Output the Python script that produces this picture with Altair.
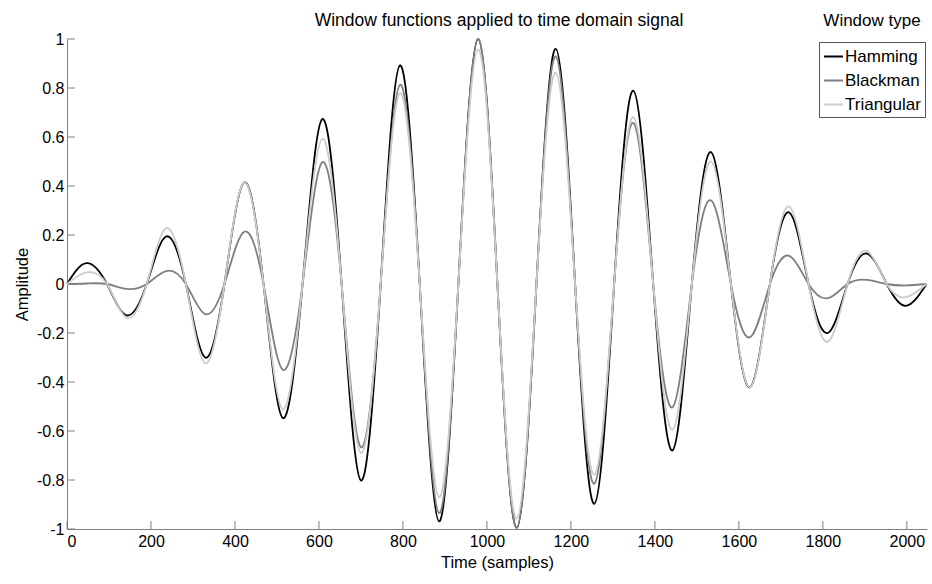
import altair as alt
import pandas as pd

# Sample positions (extrema and zero crossings)
time_samples = [0, 46, 95, 142, 190, 236, 283, 329, 375, 422, 468, 514, 561, 608, 654,
                700, 747, 793, 840, 886, 932, 979, 1025, 1071, 1118, 1164, 1210, 1256,
                1303, 1349, 1396, 1442, 1488, 1534, 1581, 1627, 1674, 1720, 1766, 1812,
                1859, 1905, 1952, 1998, 2047]

hamming = [0, 0.085, 0, -0.128, 0, 0.194, 0, -0.300, 0, 0.414, 0, -0.547, 0, 0.673, 0,
           -0.802, 0, 0.892, 0, -0.969, 0, 1.0, 0, -0.995, 0, 0.960, 0, -0.897,
           0, 0.789, 0, -0.679, 0, 0.538, 0, -0.421, 0, 0.292, 0, -0.200,
           0, 0.124, 0, -0.089, 0]

blackman = [0, 0.002, 0, -0.020, 0, 0.053, 0, -0.123, 0, 0.213, 0, -0.350, 0, 0.497, 0,
            -0.666, 0, 0.813, 0, -0.935, 0, 1.0, 0, -0.995, 0, 0.929, 0, -0.815,
            0, 0.657, 0, -0.503, 0, 0.341, 0, -0.217, 0, 0.115, 0, -0.058,
            0, 0.017, 0, -0.006, 0]

triangular = [0, 0.047, 0, -0.138, 0, 0.228, 0, -0.323, 0, 0.414, 0, -0.511, 0, 0.593, 0,
              -0.690, 0, 0.779, 0, -0.870, 0, 0.957, 0, -0.958, 0, 0.863, 0, -0.778,
              0, 0.681, 0, -0.595, 0, 0.500, 0, -0.421, 0, 0.316, 0, -0.235,
              0, 0.135, 0, -0.054, 0]

series_names = ["Hamming", "Blackman", "Triangular"]
series_colors = ["#000000", "#7f7f7f", "#cccccc"]

x_ticks = [0, 200, 400, 600, 800, 1000, 1200, 1400, 1600, 1800, 2000]
y_ticks = [-1, -0.8, -0.6, -0.4, -0.2, 0, 0.2, 0.4, 0.6, 0.8, 1]

chart_title = "Window functions applied to time domain signal"
legend_heading = "Window type"

rows = []
for name, vals in zip(series_names, [hamming, blackman, triangular]):
    for order, (t, v) in enumerate(zip(time_samples, vals)):
        rows.append({"t": t, "amp": v, "window": name, "ord": order})
df = pd.DataFrame(rows)

FONT = "Liberation Sans"
W, H = 860, 490

xscale = alt.Scale(domain=[0, 2048], nice=False, zero=False)
yscale = alt.Scale(domain=[-1, 1], nice=False)

lines = alt.Chart(df).mark_line(interpolate="natural", strokeWidth=1.8).encode(
    x=alt.X("t:Q", scale=xscale,
            axis=alt.Axis(title="Time (samples)", values=x_ticks, tickSize=0,
                          labelExpr="'' + datum.value", grid=False,
                          domainColor="#808080", labelPadding=4,
                          labelFontSize=16, titleFontSize=16.5,
                          titleFontWeight="normal", titlePadding=5,
                          labelColor="#000000", titleColor="#000000")),
    y=alt.Y("amp:Q", scale=yscale,
            axis=alt.Axis(title="Amplitude", values=y_ticks, tickSize=0,
                          labelExpr="'' + datum.value", grid=False,
                          domainColor="#808080", labelPadding=3,
                          labelFontSize=16, titleFontSize=16.5,
                          titleFontWeight="normal", titlePadding=6,
                          labelColor="#000000", titleColor="#000000")),
    color=alt.Color("window:N",
                    scale=alt.Scale(domain=series_names, range=series_colors),
                    legend=alt.Legend(title=None, orient="none", legendX=752, legendY=3,
                                      strokeColor="#555555", fillColor="#ffffff",
                                      padding=4, symbolType="stroke",
                                      symbolStrokeWidth=2, symbolSize=360,
                                      labelFontSize=17, labelFont=FONT,
                                      labelColor="#000000", rowPadding=5,
                                      labelOffset=1, cornerRadius=0)),
    order=alt.Order("ord:Q"),
)

xt = pd.DataFrame({"v": x_ticks})
yt = pd.DataFrame({"v": y_ticks})

xtick_rules = alt.Chart(xt).mark_rule(color="#808080", strokeWidth=1).encode(
    x=alt.X("v:Q", scale=xscale), y=alt.value(H), y2=alt.value(H - 8))
ytick_rules = alt.Chart(yt).mark_rule(color="#808080", strokeWidth=1).encode(
    y=alt.Y("v:Q", scale=yscale), x=alt.value(0), x2=alt.value(8))

legend_title = alt.Chart(pd.DataFrame({"label": [legend_heading]})).mark_text(
    font=FONT, fontSize=17, align="center", baseline="alphabetic", color="#000000"
).encode(text="label:N", x=alt.value(805), y=alt.value(-13))

main_title = alt.Chart(pd.DataFrame({"label": [chart_title]})).mark_text(
    font=FONT, fontSize=17.5, align="center", baseline="alphabetic", color="#000000"
).encode(text="label:N", x=alt.value(W / 2 + 2), y=alt.value(-13))

chart = alt.layer(xtick_rules, ytick_rules, lines, legend_title, main_title).properties(
    width=W, height=H,
    autosize=alt.AutoSizeParams(type="none"),
    padding={"left": 67, "top": 39, "right": 5, "bottom": 55},
).configure_view(strokeWidth=0).configure_axis(
    labelFont=FONT, titleFont=FONT
)

chart.save("out.html", embed_options={"renderer": "svg", "actions": False})
